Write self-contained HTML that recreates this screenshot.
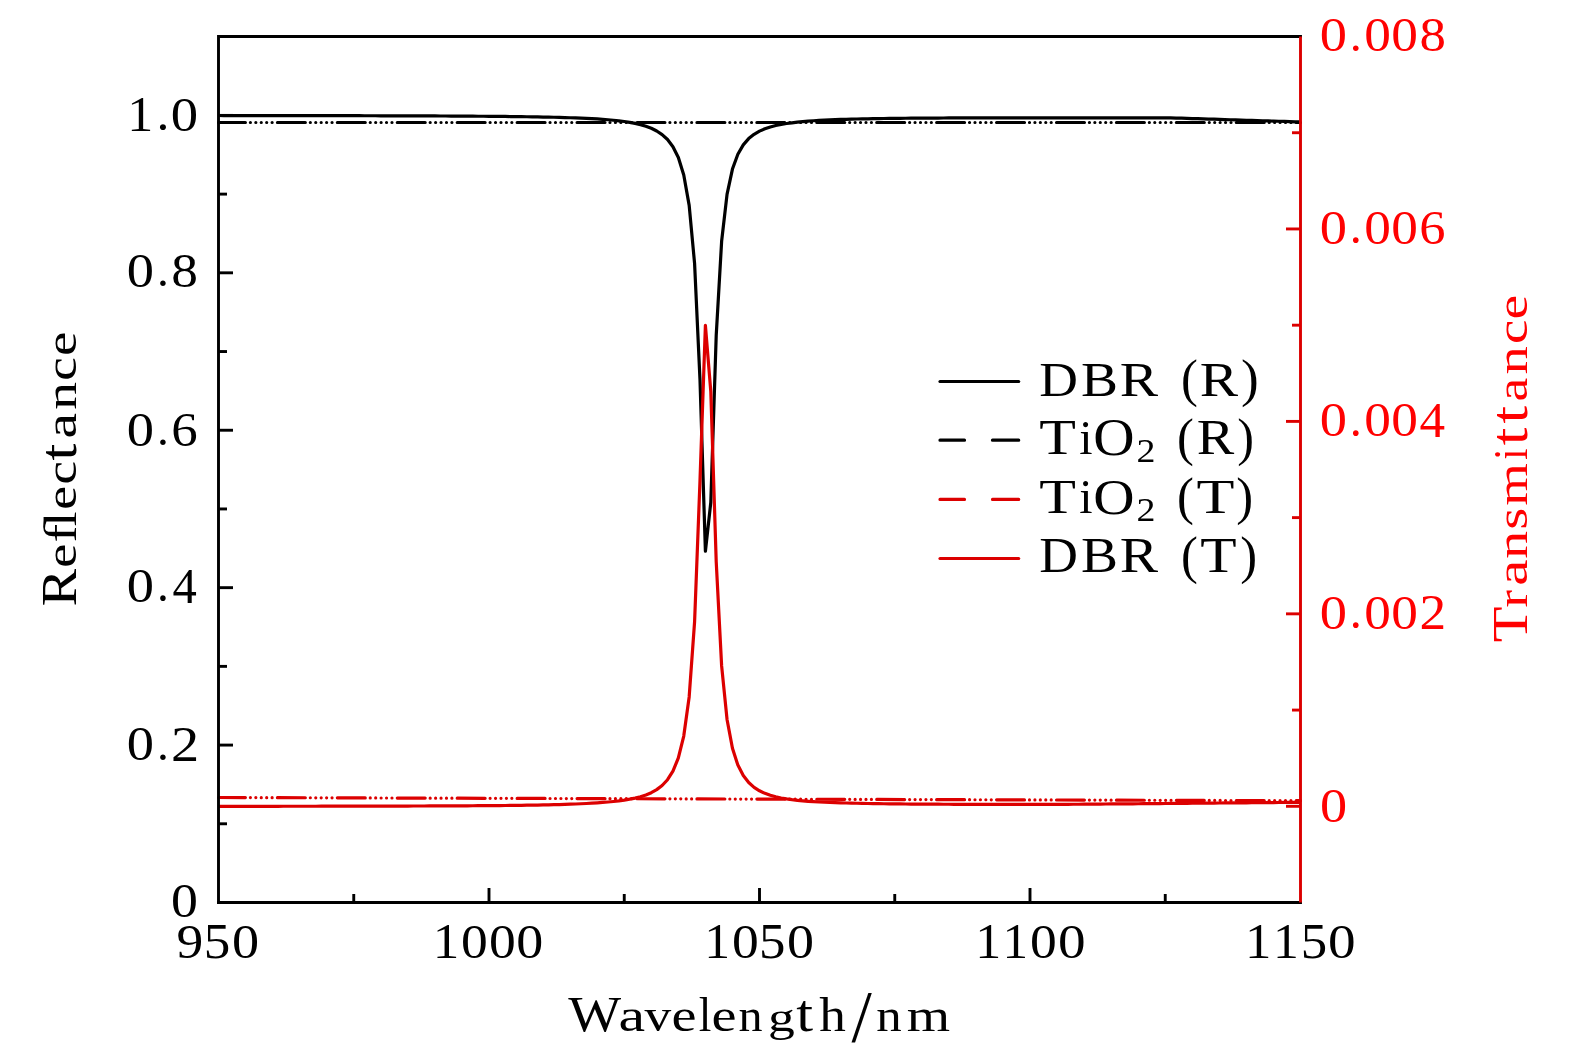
<!DOCTYPE html>
<html><head><meta charset="utf-8"><title>Reflectance and Transmittance</title>
<style>html,body{margin:0;padding:0;background:#fff;overflow:hidden}svg{display:block}text{font-family:"Liberation Serif",serif}</style>
</head><body>
<svg width="1575" height="1053" viewBox="0 0 1575 1053">
<rect width="1575" height="1053" fill="#fff"/>
<g><path d="M218.5,122.5 L1300.5,122.5" stroke="#000" stroke-width="3.2" fill="none" stroke-dasharray="27.9 5.0 0 5.43 0 5.43 0 5.43 0 5.43 0 5.31" stroke-dashoffset="1" stroke-linecap="round"/><path d="M218.5,797.5 L1300.5,800.7" stroke="#dc0000" stroke-width="3.2" fill="none" stroke-dasharray="27.9 5.0 0 5.43 0 5.43 0 5.43 0 5.43 0 5.31" stroke-dashoffset="1" stroke-linecap="round"/><path d="M218.50,115.52 L223.91,115.53 L229.32,115.53 L234.73,115.54 L240.14,115.54 L245.55,115.55 L250.96,115.55 L256.37,115.56 L261.78,115.57 L267.19,115.57 L272.60,115.58 L278.01,115.58 L283.42,115.59 L288.83,115.60 L294.24,115.61 L299.65,115.61 L305.06,115.62 L310.47,115.63 L315.88,115.64 L321.29,115.65 L326.70,115.66 L332.11,115.67 L337.52,115.68 L342.93,115.69 L348.34,115.70 L353.75,115.71 L359.16,115.72 L364.57,115.73 L369.98,115.75 L375.39,115.76 L380.80,115.78 L386.21,115.79 L391.62,115.81 L397.03,115.82 L402.44,115.84 L407.85,115.86 L413.26,115.88 L418.67,115.90 L424.08,115.92 L429.49,115.95 L434.90,115.97 L440.31,116.00 L445.72,116.02 L451.13,116.05 L456.54,116.08 L461.95,116.12 L467.36,116.15 L472.77,116.19 L478.18,116.23 L483.59,116.27 L489.00,116.32 L494.41,116.37 L499.82,116.42 L505.23,116.47 L510.64,116.54 L516.05,116.60 L521.46,116.68 L526.87,116.75 L532.28,116.84 L537.69,116.93 L543.10,117.04 L548.51,117.15 L553.92,117.27 L559.33,117.41 L564.74,117.56 L570.15,117.73 L575.56,117.92 L580.97,118.14 L586.38,118.38 L591.79,118.66 L597.20,118.97 L602.61,119.33 L608.02,119.75 L613.43,120.25 L618.84,120.82 L624.25,121.51 L629.66,122.34 L635.07,123.35 L640.48,124.60 L645.89,126.23 L651.30,128.29 L656.71,130.97 L662.12,134.56 L667.53,139.52 L672.94,146.67 L678.35,157.49 L683.76,174.94 L689.17,205.38 L694.58,263.44 L699.99,379.94 L705.40,551.21 L710.81,502.28 L716.22,335.42 L721.63,241.30 L727.04,194.32 L732.45,169.05 L737.86,154.22 L743.27,144.87 L748.68,138.62 L754.09,134.26 L759.50,131.10 L764.91,128.74 L770.32,126.94 L775.73,125.54 L781.14,124.43 L786.55,123.53 L791.96,122.79 L797.37,122.15 L802.78,121.61 L808.19,121.16 L813.60,120.77 L819.01,120.43 L824.42,120.14 L829.83,119.89 L835.24,119.66 L840.65,119.47 L846.06,119.30 L851.47,119.14 L856.88,119.01 L862.29,118.88 L867.70,118.78 L873.11,118.68 L878.52,118.59 L883.93,118.51 L889.34,118.44 L894.75,118.37 L900.16,118.31 L905.57,118.26 L910.98,118.21 L916.39,118.17 L921.80,118.13 L927.21,118.09 L932.62,118.06 L938.03,118.03 L943.44,118.00 L948.85,117.97 L954.26,117.95 L959.67,117.93 L965.08,117.91 L970.49,117.89 L975.90,117.88 L981.31,117.86 L986.72,117.85 L992.13,117.84 L997.54,117.83 L1002.95,117.82 L1008.36,117.81 L1013.77,117.81 L1019.18,117.80 L1024.59,117.80 L1030.00,117.79 L1035.41,117.79 L1040.82,117.79 L1046.23,117.78 L1051.64,117.78 L1057.05,117.78 L1062.46,117.78 L1067.87,117.78 L1073.28,117.78 L1078.69,117.78 L1084.10,117.78 L1089.51,117.78 L1094.92,117.79 L1100.33,117.79 L1105.74,117.79 L1111.15,117.80 L1116.56,117.80 L1121.97,117.80 L1127.38,117.81 L1132.79,117.81 L1138.20,117.82 L1143.61,117.82 L1149.02,117.83 L1154.43,117.83 L1159.84,117.84 L1165.25,117.84 L1170.66,117.87 L1176.07,118.04 L1181.48,118.21 L1186.89,118.37 L1192.30,118.54 L1197.71,118.71 L1203.12,118.88 L1208.53,119.05 L1213.94,119.22 L1219.35,119.39 L1224.76,119.56 L1230.17,119.73 L1235.58,119.90 L1240.99,120.07 L1246.40,120.24 L1251.81,120.41 L1257.22,120.59 L1262.63,120.76 L1268.04,120.93 L1273.45,121.10 L1278.86,121.27 L1284.27,121.44 L1289.68,121.61 L1295.09,121.78 L1300.50,121.95" stroke="#000" stroke-width="3.2" fill="none" stroke-linejoin="round"/><path d="M218.50,806.33 L223.91,806.32 L229.32,806.32 L234.73,806.32 L240.14,806.31 L245.55,806.31 L250.96,806.30 L256.37,806.30 L261.78,806.29 L267.19,806.29 L272.60,806.28 L278.01,806.28 L283.42,806.27 L288.83,806.27 L294.24,806.26 L299.65,806.25 L305.06,806.25 L310.47,806.24 L315.88,806.23 L321.29,806.22 L326.70,806.22 L332.11,806.21 L337.52,806.20 L342.93,806.19 L348.34,806.18 L353.75,806.17 L359.16,806.16 L364.57,806.15 L369.98,806.14 L375.39,806.13 L380.80,806.11 L386.21,806.10 L391.62,806.09 L397.03,806.07 L402.44,806.06 L407.85,806.04 L413.26,806.02 L418.67,806.00 L424.08,805.98 L429.49,805.96 L434.90,805.94 L440.31,805.92 L445.72,805.89 L451.13,805.87 L456.54,805.84 L461.95,805.81 L467.36,805.78 L472.77,805.74 L478.18,805.71 L483.59,805.67 L489.00,805.63 L494.41,805.58 L499.82,805.53 L505.23,805.48 L510.64,805.42 L516.05,805.36 L521.46,805.29 L526.87,805.22 L532.28,805.14 L537.69,805.05 L543.10,804.95 L548.51,804.84 L553.92,804.72 L559.33,804.59 L564.74,804.42 L570.15,804.22 L575.56,804.01 L580.97,803.77 L586.38,803.50 L591.79,803.20 L597.20,802.86 L602.61,802.46 L608.02,802.00 L613.43,801.47 L618.84,800.84 L624.25,800.08 L629.66,799.18 L635.07,798.06 L640.48,796.68 L645.89,794.92 L651.30,792.65 L656.71,789.64 L662.12,785.53 L667.53,779.73 L672.94,771.18 L678.35,757.93 L683.76,736.01 L689.17,696.92 L694.58,621.97 L699.99,480.88 L705.40,325.29 L710.81,391.73 L716.22,561.72 L721.63,665.94 L727.04,719.45 L732.45,748.30 L737.86,765.10 L743.27,775.59 L748.68,782.53 L754.09,787.33 L759.50,790.78 L764.91,793.33 L770.32,795.27 L775.73,796.77 L781.14,797.96 L786.55,798.91 L791.96,799.69 L797.37,800.32 L802.78,800.85 L808.19,801.30 L813.60,801.67 L819.01,801.99 L824.42,802.26 L829.83,802.49 L835.24,802.70 L840.65,802.87 L846.06,803.02 L851.47,803.16 L856.88,803.27 L862.29,803.38 L867.70,803.49 L873.11,803.58 L878.52,803.66 L883.93,803.74 L889.34,803.81 L894.75,803.87 L900.16,803.93 L905.57,803.98 L910.98,804.03 L916.39,804.07 L921.80,804.11 L927.21,804.14 L932.62,804.17 L938.03,804.20 L943.44,804.23 L948.85,804.25 L954.26,804.28 L959.67,804.30 L965.08,804.32 L970.49,804.33 L975.90,804.35 L981.31,804.36 L986.72,804.37 L992.13,804.39 L997.54,804.40 L1002.95,804.40 L1008.36,804.41 L1013.77,804.42 L1019.18,804.43 L1024.59,804.43 L1030.00,804.44 L1035.41,804.44 L1040.82,804.45 L1046.23,804.45 L1051.64,804.44 L1057.05,804.40 L1062.46,804.36 L1067.87,804.31 L1073.28,804.27 L1078.69,804.23 L1084.10,804.19 L1089.51,804.14 L1094.92,804.10 L1100.33,804.05 L1105.74,804.01 L1111.15,803.96 L1116.56,803.92 L1121.97,803.87 L1127.38,803.83 L1132.79,803.78 L1138.20,803.73 L1143.61,803.69 L1149.02,803.64 L1154.43,803.60 L1159.84,803.55 L1165.25,803.50 L1170.66,803.45 L1176.07,803.41 L1181.48,803.36 L1186.89,803.31 L1192.30,803.26 L1197.71,803.22 L1203.12,803.17 L1208.53,803.12 L1213.94,803.07 L1219.35,803.02 L1224.76,802.97 L1230.17,802.92 L1235.58,802.88 L1240.99,802.83 L1246.40,802.78 L1251.81,802.73 L1257.22,802.68 L1262.63,802.63 L1268.04,802.58 L1273.45,802.53 L1278.86,802.48 L1284.27,802.43 L1289.68,802.38 L1295.09,802.33 L1300.50,802.28" stroke="#dc0000" stroke-width="3.2" fill="none" stroke-linejoin="round"/></g>
<g><path d="M218.5,902.5 L218.5,36.5 L1300.5,36.5" stroke="#000" stroke-width="2.9" fill="none" stroke-linecap="square"/><path d="M218.5,902.5 L1300.5,902.5" stroke="#000" stroke-width="2.9" fill="none" stroke-linecap="square"/><path d="M218.5,902.50 h14.5" stroke="#000" stroke-width="2.9"/><path d="M218.5,823.79 h8.5" stroke="#000" stroke-width="2.9"/><path d="M218.5,745.08 h14.5" stroke="#000" stroke-width="2.9"/><path d="M218.5,666.37 h8.5" stroke="#000" stroke-width="2.9"/><path d="M218.5,587.66 h14.5" stroke="#000" stroke-width="2.9"/><path d="M218.5,508.95 h8.5" stroke="#000" stroke-width="2.9"/><path d="M218.5,430.24 h14.5" stroke="#000" stroke-width="2.9"/><path d="M218.5,351.53 h8.5" stroke="#000" stroke-width="2.9"/><path d="M218.5,272.82 h14.5" stroke="#000" stroke-width="2.9"/><path d="M218.5,194.11 h8.5" stroke="#000" stroke-width="2.9"/><path d="M218.5,115.40 h14.5" stroke="#000" stroke-width="2.9"/><path d="M353.75,902.5 v-8.5" stroke="#000" stroke-width="2.9"/><path d="M489.00,902.5 v-14.5" stroke="#000" stroke-width="2.9"/><path d="M624.25,902.5 v-8.5" stroke="#000" stroke-width="2.9"/><path d="M759.50,902.5 v-14.5" stroke="#000" stroke-width="2.9"/><path d="M894.75,902.5 v-8.5" stroke="#000" stroke-width="2.9"/><path d="M1030.00,902.5 v-14.5" stroke="#000" stroke-width="2.9"/><path d="M1165.25,902.5 v-8.5" stroke="#000" stroke-width="2.9"/><path d="M1300.5,36.5 L1300.5,902.5" stroke="#dc0000" stroke-width="2.9" fill="none" stroke-linecap="butt"/><path d="M1300.5,806.30 h-14.5" stroke="#dc0000" stroke-width="2.9"/><path d="M1300.5,710.07 h-8.5" stroke="#dc0000" stroke-width="2.9"/><path d="M1300.5,613.85 h-14.5" stroke="#dc0000" stroke-width="2.9"/><path d="M1300.5,517.62 h-8.5" stroke="#dc0000" stroke-width="2.9"/><path d="M1300.5,421.40 h-14.5" stroke="#dc0000" stroke-width="2.9"/><path d="M1300.5,325.18 h-8.5" stroke="#dc0000" stroke-width="2.9"/><path d="M1300.5,228.95 h-14.5" stroke="#dc0000" stroke-width="2.9"/><path d="M1300.5,132.73 h-8.5" stroke="#dc0000" stroke-width="2.9"/></g>
<g><path d="M940.0,381.5 H1018.7" stroke="#000" stroke-width="3.2" stroke-linecap="round"/><path d="M940.0,440.2 H964.5 M992.5,440.2 H1018.7" stroke="#000" stroke-width="3.2" stroke-linecap="round"/><path d="M940.0,499.4 H964.5 M992.5,499.4 H1018.7" stroke="#dc0000" stroke-width="3.2" stroke-linecap="round"/><path d="M940.0,558.5 H1018.7" stroke="#dc0000" stroke-width="3.2" stroke-linecap="round"/></g>
<g font-family="Liberation Serif, serif" font-size="100.0" opacity="0.999"><text transform="matrix(0.5198 0 0 0.5059 127.13 131.00)" fill="#000">1</text><text transform="matrix(0.5162 0 0 0.4805 156.50 129.65)" fill="#000">.</text><text transform="matrix(0.5474 0 0 0.4950 170.82 130.52)" fill="#000">0</text><text transform="matrix(0.5450 0 0 0.4875 126.82 287.32)" fill="#000">0</text><text transform="matrix(0.4739 0 0 0.4733 156.88 286.47)" fill="#000">.</text><text transform="matrix(0.5332 0 0 0.4875 171.37 287.32)" fill="#000">8</text><text transform="matrix(0.5450 0 0 0.4890 126.82 445.52)" fill="#000">0</text><text transform="matrix(0.4739 0 0 0.4748 156.88 444.67)" fill="#000">.</text><text transform="matrix(0.5290 0 0 0.4912 171.13 445.52)" fill="#000">6</text><text transform="matrix(0.5450 0 0 0.4905 126.82 602.02)" fill="#000">0</text><text transform="matrix(0.4739 0 0 0.4762 156.88 601.16)" fill="#000">.</text><text transform="matrix(0.4862 0 0 0.5029 172.45 602.50)" fill="#000">4</text><text transform="matrix(0.5450 0 0 0.4875 126.82 760.42)" fill="#000">0</text><text transform="matrix(0.4739 0 0 0.4733 156.88 759.57)" fill="#000">.</text><text transform="matrix(0.5638 0 0 0.4969 170.92 760.90)" fill="#000">2</text><text transform="matrix(0.5380 0 0 0.4861 171.05 917.33)" fill="#000">0</text><text transform="matrix(0.5343 0 0 0.4956 176.48 957.62)" fill="#000">9</text><text transform="matrix(0.5312 0 0 0.5011 203.71 957.61)" fill="#000">5</text><text transform="matrix(0.5427 0 0 0.4935 232.03 957.62)" fill="#000">0</text><text transform="matrix(0.5312 0 0 0.5044 432.63 958.10)" fill="#000">1</text><text transform="matrix(0.5356 0 0 0.4935 461.06 957.62)" fill="#000">0</text><text transform="matrix(0.5356 0 0 0.4935 489.06 957.62)" fill="#000">0</text><text transform="matrix(0.5403 0 0 0.4935 516.14 957.62)" fill="#000">0</text><text transform="matrix(0.5170 0 0 0.5044 704.16 958.10)" fill="#000">1</text><text transform="matrix(0.5356 0 0 0.4935 731.96 957.62)" fill="#000">0</text><text transform="matrix(0.5288 0 0 0.5011 758.93 957.61)" fill="#000">5</text><text transform="matrix(0.5403 0 0 0.4935 787.04 957.62)" fill="#000">0</text><text transform="matrix(0.5198 0 0 0.5044 975.13 958.10)" fill="#000">1</text><text transform="matrix(0.5113 0 0 0.5044 1002.61 958.10)" fill="#000">1</text><text transform="matrix(0.5356 0 0 0.4935 1029.96 957.62)" fill="#000">0</text><text transform="matrix(0.5521 0 0 0.4935 1057.90 957.62)" fill="#000">0</text><text transform="matrix(0.5283 0 0 0.5044 1244.96 958.10)" fill="#000">1</text><text transform="matrix(0.5170 0 0 0.5044 1273.06 958.10)" fill="#000">1</text><text transform="matrix(0.5288 0 0 0.5011 1300.73 957.61)" fill="#000">5</text><text transform="matrix(0.5521 0 0 0.4935 1327.90 957.62)" fill="#000">0</text><text transform="matrix(0.5450 0 0 0.4875 1319.82 51.42)" fill="#ff0000">0</text><text transform="matrix(0.4824 0 0 0.4733 1349.72 50.57)" fill="#ff0000">.</text><text transform="matrix(0.5332 0 0 0.4875 1364.37 51.42)" fill="#ff0000">0</text><text transform="matrix(0.5332 0 0 0.4875 1391.27 51.42)" fill="#ff0000">0</text><text transform="matrix(0.5285 0 0 0.4875 1419.39 51.42)" fill="#ff0000">8</text><text transform="matrix(0.5450 0 0 0.4890 1319.82 243.52)" fill="#ff0000">0</text><text transform="matrix(0.4824 0 0 0.4748 1349.72 242.67)" fill="#ff0000">.</text><text transform="matrix(0.5332 0 0 0.4890 1364.37 243.52)" fill="#ff0000">0</text><text transform="matrix(0.5332 0 0 0.4890 1391.27 243.52)" fill="#ff0000">0</text><text transform="matrix(0.5243 0 0 0.4912 1419.15 243.52)" fill="#ff0000">6</text><text transform="matrix(0.5450 0 0 0.4905 1319.82 436.42)" fill="#ff0000">0</text><text transform="matrix(0.4824 0 0 0.4762 1349.72 435.56)" fill="#ff0000">.</text><text transform="matrix(0.5332 0 0 0.4905 1364.37 436.42)" fill="#ff0000">0</text><text transform="matrix(0.5332 0 0 0.4905 1391.27 436.42)" fill="#ff0000">0</text><text transform="matrix(0.5120 0 0 0.5029 1419.50 436.90)" fill="#ff0000">4</text><text transform="matrix(0.5450 0 0 0.4890 1319.82 628.52)" fill="#ff0000">0</text><text transform="matrix(0.4824 0 0 0.4748 1349.72 627.67)" fill="#ff0000">.</text><text transform="matrix(0.5332 0 0 0.4890 1364.37 628.52)" fill="#ff0000">0</text><text transform="matrix(0.5332 0 0 0.4890 1391.27 628.52)" fill="#ff0000">0</text><text transform="matrix(0.5338 0 0 0.4984 1419.55 629.00)" fill="#ff0000">2</text><text transform="matrix(0.5427 0 0 0.4890 1319.93 821.52)" fill="#ff0000">0</text><text transform="matrix(0.5357 0 0 0.4933 1039.16 395.70)" fill="#000">D</text><text transform="matrix(0.5548 0 0 0.4933 1081.00 395.70)" fill="#000">B</text><text transform="matrix(0.5748 0 0 0.4933 1119.74 395.70)" fill="#000">R</text><text transform="matrix(0.5062 0 0 0.5216 1180.88 396.42)" fill="#000">(</text><text transform="matrix(0.5748 0 0 0.4933 1199.74 395.70)" fill="#000">R</text><text transform="matrix(0.5334 0 0 0.5216 1240.88 396.42)" fill="#000">)</text><text transform="matrix(0.6005 0 0 0.5009 1039.32 454.40)" fill="#000">T</text><text transform="matrix(0.4794 0 0 0.4852 1079.29 454.40)" fill="#000">i</text><text transform="matrix(0.5718 0 0 0.5196 1093.15 454.95)" fill="#000">O</text><text transform="matrix(0.3792 0 0 0.3338 1136.53 462.00)" fill="#000">2</text><text transform="matrix(0.5062 0 0 0.5296 1177.08 455.13)" fill="#000">(</text><text transform="matrix(0.5623 0 0 0.5009 1196.78 454.40)" fill="#000">R</text><text transform="matrix(0.5023 0 0 0.5296 1237.18 455.13)" fill="#000">)</text><text transform="matrix(0.6005 0 0 0.4948 1039.32 513.10)" fill="#000">T</text><text transform="matrix(0.4794 0 0 0.4793 1079.29 513.10)" fill="#000">i</text><text transform="matrix(0.5718 0 0 0.5133 1093.15 513.64)" fill="#000">O</text><text transform="matrix(0.3792 0 0 0.3444 1136.53 521.00)" fill="#000">2</text><text transform="matrix(0.5062 0 0 0.5232 1177.08 513.82)" fill="#000">(</text><text transform="matrix(0.6213 0 0 0.4948 1196.48 513.10)" fill="#000">T</text><text transform="matrix(0.5062 0 0 0.5232 1236.37 513.82)" fill="#000">)</text><text transform="matrix(0.5357 0 0 0.4963 1039.16 571.80)" fill="#000">D</text><text transform="matrix(0.5548 0 0 0.4963 1081.00 571.80)" fill="#000">B</text><text transform="matrix(0.5748 0 0 0.4963 1119.74 571.80)" fill="#000">R</text><text transform="matrix(0.5062 0 0 0.5248 1180.88 572.52)" fill="#000">(</text><text transform="matrix(0.5953 0 0 0.4963 1200.32 571.80)" fill="#000">T</text><text transform="matrix(0.5062 0 0 0.5248 1240.17 572.52)" fill="#000">)</text><text transform="matrix(0.5601 0 0 0.5131 568.25 1030.70)" fill="#000">W</text><text transform="matrix(0.6000 0 0 0.4581 618.59 1030.70)" fill="#000">a</text><text transform="matrix(0.5340 0 0 0.4684 644.40 1030.70)" fill="#000">v</text><text transform="matrix(0.5647 0 0 0.4562 671.49 1030.70)" fill="#000">e</text><text transform="matrix(0.4542 0 0 0.4921 698.79 1030.70)" fill="#000">l</text><text transform="matrix(0.5647 0 0 0.4562 711.49 1030.70)" fill="#000">e</text><text transform="matrix(0.4806 0 0 0.4562 738.60 1030.70)" fill="#000">n</text><text transform="matrix(0.5365 0 0 0.4258 767.89 1031.05)" fill="#000">g</text><text transform="matrix(0.6064 0 0 0.5374 796.21 1030.70)" fill="#000">t</text><text transform="matrix(0.5324 0 0 0.4921 819.18 1030.70)" fill="#000">h</text><text transform="matrix(0.7307 0 0 0.7354 851.40 1042.28)" fill="#000">/</text><text transform="matrix(0.5088 0 0 0.4562 876.33 1030.70)" fill="#000">n</text><text transform="matrix(0.5572 0 0 0.4562 906.73 1030.70)" fill="#000">m</text><text transform="matrix(0 -0.5654 0.4979 0 75.90 606.53)" fill="#000">R</text><text transform="matrix(0 -0.5512 0.4427 0 75.90 567.95)" fill="#000">e</text><text transform="matrix(0 -0.5580 0.4718 0 75.90 542.42)" fill="#000">ﬂ</text><text transform="matrix(0 -0.5404 0.4427 0 75.90 509.81)" fill="#000">e</text><text transform="matrix(0 -0.5307 0.4427 0 75.90 484.62)" fill="#000">c</text><text transform="matrix(0 -0.6064 0.5214 0 75.90 460.39)" fill="#000">t</text><text transform="matrix(0 -0.5772 0.4445 0 75.90 438.53)" fill="#000">a</text><text transform="matrix(0 -0.5564 0.4427 0 75.90 409.78)" fill="#000">n</text><text transform="matrix(0 -0.5307 0.4427 0 75.90 380.72)" fill="#000">c</text><text transform="matrix(0 -0.5485 0.4427 0 75.90 356.04)" fill="#000">e</text><text transform="matrix(0 -0.5832 0.4963 0 1527.10 642.15)" fill="#ff0000">T</text><text transform="matrix(0 -0.5260 0.4413 0 1527.10 607.45)" fill="#ff0000">r</text><text transform="matrix(0 -0.5924 0.4431 0 1527.10 585.68)" fill="#ff0000">a</text><text transform="matrix(0 -0.5564 0.4413 0 1527.10 558.68)" fill="#ff0000">n</text><text transform="matrix(0 -0.5673 0.4413 0 1527.10 529.73)" fill="#ff0000">s</text><text transform="matrix(0 -0.5464 0.4413 0 1527.10 505.75)" fill="#ff0000">m</text><text transform="matrix(0 -0.4079 0.4808 0 1527.10 459.86)" fill="#ff0000">i</text><text transform="matrix(0 -0.6331 0.5198 0 1527.10 445.22)" fill="#ff0000">t</text><text transform="matrix(0 -0.6331 0.5198 0 1527.10 423.42)" fill="#ff0000">t</text><text transform="matrix(0 -0.5367 0.4431 0 1527.10 401.39)" fill="#ff0000">a</text><text transform="matrix(0 -0.5672 0.4413 0 1527.10 374.50)" fill="#ff0000">n</text><text transform="matrix(0 -0.5493 0.4413 0 1527.10 343.99)" fill="#ff0000">c</text><text transform="matrix(0 -0.5566 0.4413 0 1527.10 319.57)" fill="#ff0000">e</text></g>
</svg>
</body></html>
